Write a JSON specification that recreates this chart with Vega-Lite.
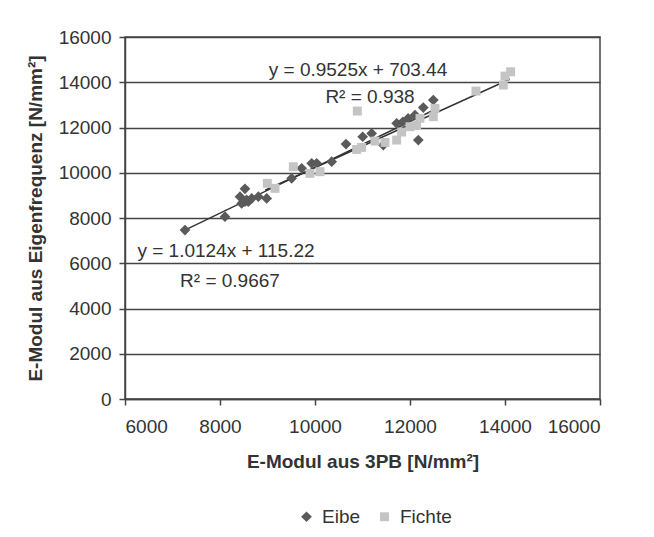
{
  "$schema": "https://vega.github.io/schema/vega-lite/v6.json",
  "width": 475,
  "height": 362,
  "autosize": {"type": "none"},
  "padding": {"left": 125, "top": 37, "right": 54, "bottom": 138},
  "background": "white",
  "config": {
    "font": "Liberation Sans",
    "view": {"stroke": "#444", "strokeWidth": 1.5},
    "axis": {
      "labelFont": "Liberation Sans", "labelFontSize": 19, "labelColor": "#333",
      "titleFont": "Liberation Sans", "titleFontSize": 19, "titleFontWeight": "bold", "titleColor": "#333",
      "domainColor": "#444", "domainWidth": 1.5, "tickColor": "#444", "tickWidth": 1.5, "tickSize": 6,
      "gridColor": "#444", "gridWidth": 1.5, "gridOpacity": 1
    },
    "legend": {"labelFont": "Liberation Sans", "labelFontSize": 19, "labelColor": "#333"}
  },
  "datasets": {
    "pts": [
      {"x": 7263, "y": 7468, "species": "Eibe"},
      {"x": 8105, "y": 8056, "species": "Eibe"},
      {"x": 8526, "y": 9290, "species": "Eibe"},
      {"x": 8421, "y": 8940, "species": "Eibe"},
      {"x": 8456, "y": 8645, "species": "Eibe"},
      {"x": 8526, "y": 8718, "species": "Eibe"},
      {"x": 8596, "y": 8718, "species": "Eibe"},
      {"x": 8560, "y": 8800, "species": "Eibe"},
      {"x": 8667, "y": 8866, "species": "Eibe"},
      {"x": 8807, "y": 8940, "species": "Eibe"},
      {"x": 8983, "y": 8866, "species": "Eibe"},
      {"x": 9509, "y": 9752, "species": "Eibe"},
      {"x": 9719, "y": 10194, "species": "Eibe"},
      {"x": 9930, "y": 10415, "species": "Eibe"},
      {"x": 10035, "y": 10415, "species": "Eibe"},
      {"x": 10351, "y": 10487, "species": "Eibe"},
      {"x": 10653, "y": 11268, "species": "Eibe"},
      {"x": 11004, "y": 11591, "species": "Eibe"},
      {"x": 11193, "y": 11740, "species": "Eibe"},
      {"x": 11438, "y": 11223, "species": "Eibe"},
      {"x": 11719, "y": 12183, "species": "Eibe"},
      {"x": 11850, "y": 12250, "species": "Eibe"},
      {"x": 11960, "y": 12400, "species": "Eibe"},
      {"x": 12105, "y": 12550, "species": "Eibe"},
      {"x": 12175, "y": 11445, "species": "Eibe"},
      {"x": 12280, "y": 12880, "species": "Eibe"},
      {"x": 12491, "y": 13213, "species": "Eibe"},
      {"x": 8996, "y": 9531, "species": "Fichte"},
      {"x": 9158, "y": 9310, "species": "Fichte"},
      {"x": 9543, "y": 10267, "species": "Fichte"},
      {"x": 9895, "y": 9973, "species": "Fichte"},
      {"x": 10105, "y": 10047, "species": "Fichte"},
      {"x": 10891, "y": 12727, "species": "Fichte"},
      {"x": 10877, "y": 11030, "species": "Fichte"},
      {"x": 10982, "y": 11120, "species": "Fichte"},
      {"x": 11263, "y": 11400, "species": "Fichte"},
      {"x": 11474, "y": 11340, "species": "Fichte"},
      {"x": 11719, "y": 11445, "species": "Fichte"},
      {"x": 11825, "y": 11800, "species": "Fichte"},
      {"x": 12000, "y": 12035, "species": "Fichte"},
      {"x": 12140, "y": 12100, "species": "Fichte"},
      {"x": 12210, "y": 12403, "species": "Fichte"},
      {"x": 12491, "y": 12476, "species": "Fichte"},
      {"x": 12526, "y": 12845, "species": "Fichte"},
      {"x": 13389, "y": 13610, "species": "Fichte"},
      {"x": 13965, "y": 13876, "species": "Fichte"},
      {"x": 14000, "y": 14273, "species": "Fichte"},
      {"x": 14119, "y": 14463, "species": "Fichte"}
    ],
    "trend": [
      {"x": 7250, "y": 7455, "series": "Eibe"},
      {"x": 12470, "y": 12740, "series": "Eibe"},
      {"x": 8950, "y": 9228, "series": "Fichte"},
      {"x": 14100, "y": 14134, "series": "Fichte"}
    ],
    "notes": [
      {"x": 10905, "y": 14540, "label": "y = 0.9525x + 703.44"},
      {"x": 11158, "y": 13345, "label": "R² = 0.938"},
      {"x": 8126, "y": 6540, "label": "y = 1.0124x + 115.22"},
      {"x": 8210, "y": 5214, "label": "R² = 0.9667"}
    ]
  },
  "layer": [
    {
      "data": {"name": "trend"},
      "mark": {"type": "line", "color": "#333", "strokeWidth": 1.5},
      "encoding": {
        "x": {"field": "x", "type": "quantitative"},
        "y": {"field": "y", "type": "quantitative"},
        "detail": {"field": "series"}
      }
    },
    {
      "data": {"name": "pts"},
      "mark": {"type": "point", "filled": true, "opacity": 1},
      "encoding": {
        "x": {
          "field": "x", "type": "quantitative",
          "scale": {"domain": [6000, 16000], "nice": false, "zero": false},
          "axis": {"values": [6000, 8000, 10000, 12000, 14000, 16000], "grid": false, "format": "d", "labelPadding": 12, "titlePadding": 16},
          "title": "E-Modul aus 3PB [N/mm²]"
        },
        "y": {
          "field": "y", "type": "quantitative",
          "scale": {"domain": [0, 16000], "nice": false},
          "axis": {"values": [0, 2000, 4000, 6000, 8000, 10000, 12000, 14000, 16000], "format": "d", "labelPadding": 8, "titlePadding": 13},
          "title": "E-Modul aus Eigenfrequenz [N/mm²]"
        },
        "color": {
          "field": "species", "type": "nominal",
          "scale": {"domain": ["Eibe", "Fichte"], "range": ["#5a5a5a", "#c4c4c4"]},
          "legend": {"title": null, "orient": "none", "legendX": 172, "legendY": 470, "direction": "horizontal", "symbolSize": 70, "columnPadding": 14, "labelOffset": 6}
        },
        "shape": {
          "field": "species", "type": "nominal",
          "scale": {"domain": ["Eibe", "Fichte"], "range": ["diamond", "square"]}
        },
        "size": {
          "field": "species", "type": "nominal",
          "scale": {"domain": ["Eibe", "Fichte"], "range": [115, 80]},
          "legend": null
        }
      }
    },
    {
      "data": {"name": "notes"},
      "mark": {"type": "text", "font": "Liberation Sans", "fontSize": 19, "color": "#333"},
      "encoding": {
        "x": {"field": "x", "type": "quantitative"},
        "y": {"field": "y", "type": "quantitative"},
        "text": {"field": "label"}
      }
    }
  ]
}
